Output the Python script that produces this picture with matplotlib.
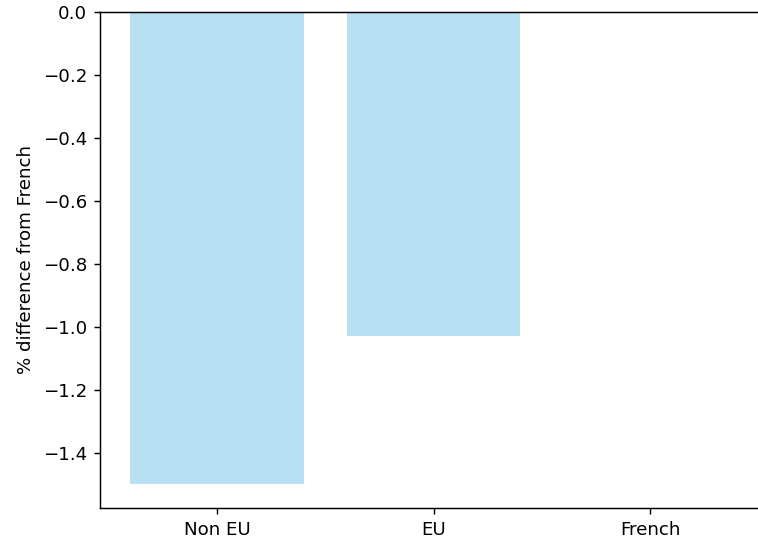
import matplotlib
matplotlib.use("Agg")
import matplotlib.pyplot as plt

categories = ["Non EU", "EU", "French"]
values = [-1.50, -1.03, 0.0]

W, H = 758, 548
DPI = 131
fig = plt.figure(figsize=(W / DPI, H / DPI), dpi=DPI)
left, right, top, bottom = 100, 767, 12, 508
ax = fig.add_axes([left / W, (H - bottom) / H, (right - left) / W, (bottom - top) / H])
ax.bar(categories, values, color="skyblue", alpha=0.6, width=0.8)
ax.set_ylabel("% difference from French")
ax.set_ylim(-1.575, 0.0)
fig.savefig("out.png", dpi=DPI)
